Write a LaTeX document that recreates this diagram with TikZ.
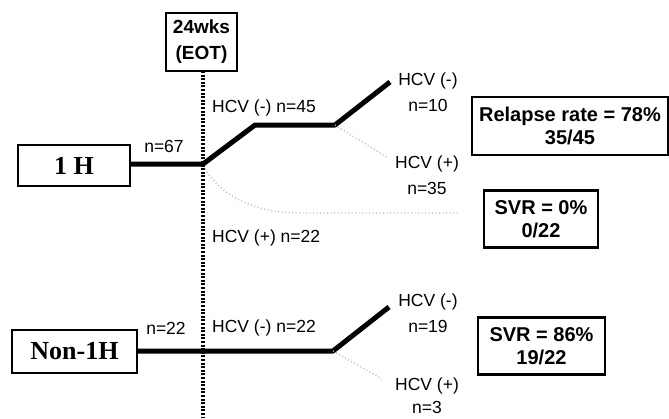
\documentclass[tikz,border=0pt]{standalone}
\usepackage{fontspec}
\setmainfont{Liberation Sans}
\newfontfamily\serifbf{Liberation Serif}
\begin{document}
\begin{tikzpicture}[x=1pt,y=-1pt,
  box/.style={draw, line width=2.2pt, inner sep=0pt, align=center},
  grpbox/.style={box, font=\serifbf\bfseries\fontsize{26}{30}\selectfont},
  resbox/.style={box, font=\bfseries\fontsize{20}{23.5}\selectfont},
  lbl/.style={inner sep=0pt, font=\fontsize{17.5}{20}\selectfont},
  thick line/.style={line width=5pt},
  grey branch/.style={gray!55, line width=1.4pt, dash pattern=on 1pt off 2.5pt},
  eot line/.style={line width=3.2pt, dash pattern=on 2pt off 1.6pt}]
\useasboundingbox (0,0) rectangle (669,418);

% boxes
\node[box, font=\bfseries\fontsize{19}{26}\selectfont, minimum width=71pt, minimum height=58pt] (eot) at (201.5,42) {24wks\\(EOT)};
\node[grpbox, minimum width=112pt, minimum height=41pt] (g1) at (74,165.5) {1 H};
\node[grpbox, minimum width=125pt, minimum height=43pt] (g2) at (74.5,351.5) {Non-1H};
\node[resbox, minimum width=196pt, minimum height=58pt] (rel) at (570,126) {Relapse rate = 78\%\\35/45};
\node[resbox, minimum width=114pt, minimum height=57pt] (svr0) at (541,219) {SVR = 0\%\\0/22};
\node[resbox, minimum width=127pt, minimum height=57pt] (svr86) at (541.5,346) {SVR = 86\%\\19/22};

% coordinates
\coordinate (vbot) at (203,418);
\coordinate (vtop) at (203,71);
\coordinate (j1) at (203,164);
\coordinate (k1) at (255,125);
\coordinate (s1) at (335,125);
\coordinate (e1) at (390,82);
\coordinate (f1) at (388,158);
\coordinate (c0) at (205,169);
\coordinate (c1) at (300,213);
\coordinate (c2) at (460,213);
\coordinate (j2) at (203,351);
\coordinate (s2) at (333,351);
\coordinate (e2) at (389,307);
\coordinate (f2) at (382,379);

% EOT dotted line
\draw[eot line] (vtop) -- (vbot);

% 1H branches
\draw[thick line, line join=round] (g1.east |- j1) -- (j1) -- (k1) -- (s1) -- (e1);
\draw[grey branch] (s1) -- (f1);
\draw[grey branch] (c0) .. controls (225,200) and (260,213) .. (c1) -- (c2);

% Non-1H branches
\draw[thick line, line join=round] (g2.east |- j2) -- (s2) -- (e2);
\draw[grey branch] (s2) -- (f2);

% labels
\node[lbl] (n67) at (164,146) {n=67};
\node[lbl, anchor=west] (l45) at (212,108) {HCV (-) n=45};
\node[lbl, anchor=west] (l22p) at (212,238) {HCV (+) n=22};
\node[lbl] (n22) at (166,328) {n=22};
\node[lbl, anchor=west] (l22m) at (212,328) {HCV (-) n=22};
\node[lbl] (a1) at (428,81) {HCV (-)};
\node[lbl] (a2) at (428,105) {n=10};
\node[lbl] (b1) at (427,164) {HCV (+)};
\node[lbl] (b2) at (427,188) {n=35};
\node[lbl] (c1l) at (428,302) {HCV (-)};
\node[lbl] (c2l) at (428,326) {n=19};
\node[lbl] (d1) at (427,386) {HCV (+)};
\node[lbl] (d2) at (427,407) {n=3};
\end{tikzpicture}
\end{document}
